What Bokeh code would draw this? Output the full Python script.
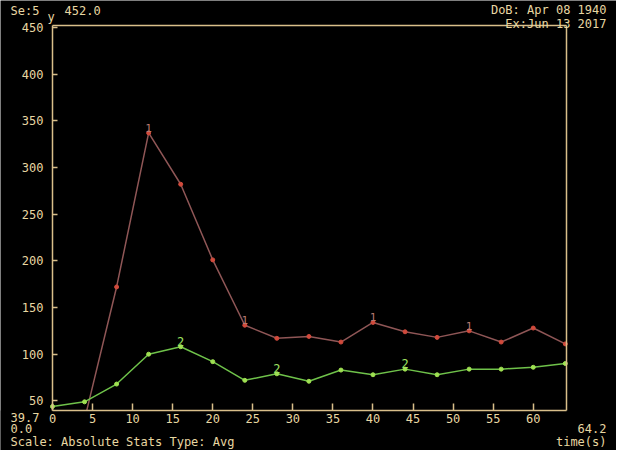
from bokeh.plotting import figure
from bokeh.models import (Range1d, FixedTicker, Label, ColumnDataSource, LinearAxis,
                          BoxAnnotation)
from bokeh.core.properties import value
from bokeh.embed import file_html
from bokeh.resources import INLINE

# ---- data ----
time_s = [0, 4, 8, 12, 16, 20, 24, 28, 32, 36, 40, 44, 48, 52, 56, 60, 64]
series1 = [20, 30, 172, 337, 282, 201, 131, 117, 119, 113, 134, 124, 118, 125, 113, 128, 111]
series2 = [44, 49, 68, 100, 108, 92, 72, 79, 71, 83, 78, 84, 78, 84, 84, 86, 90]
tag1_times = [12, 24, 40, 52]
tag2_times = [16, 28, 44]
x_ticks = [0, 5, 10, 15, 20, 25, 30, 35, 40, 45, 50, 55, 60]
y_ticks = [50, 100, 150, 200, 250, 300, 350, 400, 450]
x_min, x_max = 0.0, 64.2
y_min, y_max = 39.7, 452.0

# ---- style ----
FONT = "DejaVu Sans Mono"
TXT = "#e8d7a2"
AX = "#d9bf8a"
RED_LINE = "#8f5656"
RED_PT = "#d04a3c"
RED_TAG = "#b87a70"
GRN_LINE = "#6fc24a"
GRN_PT = "#9fe052"
GRN_TAG = "#9ee060"

W, H = 616, 450
# plot box inside the canvas (px): left, right, top, bottom
BL, BR, BT, BB = 52, 566.4, 25, 410
sx = (BR - BL) / (x_max - x_min)
sy = (BB - BT) / (y_max - y_min)
xr = Range1d(x_min - BL / sx, x_max + (W - BR) / sx)
yr = Range1d(y_min - (H - BB) / sy, y_max + BT / sy)

p = figure(width=W, height=H, output_backend="svg", toolbar_location=None,
           x_range=xr, y_range=yr, x_axis_location=None, y_axis_location=None,
           min_border=0)
p.background_fill_color = "black"
p.border_fill_color = "black"
p.outline_line_color = None
p.grid.visible = False

def style_axis(ax):
    ax.axis_line_color = AX
    ax.axis_line_width = 1.5
    ax.major_tick_line_color = AX
    ax.major_tick_line_width = 1.5
    ax.minor_tick_line_color = None
    ax.major_label_text_color = TXT
    ax.major_label_text_font = FONT
    ax.major_label_text_font_size = "12px"
    ax.major_tick_out = 0

xax = LinearAxis(fixed_location=y_min, bounds=(x_min, x_max), ticker=FixedTicker(ticks=x_ticks))
style_axis(xax)
xax.major_tick_in = 7
xax.major_label_standoff = 3
p.add_layout(xax, "below")

yax = LinearAxis(fixed_location=x_min, bounds=(y_min, y_max), ticker=FixedTicker(ticks=y_ticks))
style_axis(yax)
yax.major_tick_in = 5
yax.major_label_standoff = 9
p.add_layout(yax, "left")

top = LinearAxis(fixed_location=y_max, bounds=(x_min, x_max), ticker=FixedTicker(ticks=[]))
style_axis(top)
top.major_label_text_font_size = "0px"
p.add_layout(top, "above")

right = LinearAxis(fixed_location=x_max, bounds=(y_min, y_max), ticker=FixedTicker(ticks=[]))
style_axis(right)
right.major_label_text_font_size = "0px"
p.add_layout(right, "right")

src = ColumnDataSource(dict(t=time_s, s1=series1, s2=series2))
p.line("t", "s1", source=src, line_color=RED_LINE, line_width=1.5, level="underlay")
p.scatter("t", "s1", source=src, size=4, color=RED_PT, level="underlay")
p.line("t", "s2", source=src, line_color=GRN_LINE, line_width=1.5, level="underlay")
p.scatter("t", "s2", source=src, size=4, color=GRN_PT, level="underlay")

# mask anything that falls below the x axis (the plot box clips the series)
p.add_layout(BoxAnnotation(top=y_min, fill_color="black", fill_alpha=1.0,
                           line_color=None, level="glyph"))

t1 = dict(t=tag1_times, v=[series1[time_s.index(t)] for t in tag1_times], s=["1"] * len(tag1_times))
t2 = dict(t=tag2_times, v=[series2[time_s.index(t)] for t in tag2_times], s=["2"] * len(tag2_times))
p.text("t", "v", text="s", source=ColumnDataSource(t1), text_color=RED_TAG,
       text_font=value(FONT), text_font_size="11px", text_align="center",
       text_baseline="bottom", y_offset=-1)
p.text("t", "v", text="s", source=ColumnDataSource(t2), text_color=GRN_TAG,
       text_font=value(FONT), text_font_size="12px", text_align="center",
       text_baseline="bottom", y_offset=-1)

# canvas-pixel texts (page px minus 8px margin)
texts = [
    ("Se:5", 18, 18, "left"),
    ("y", 55, 24, "left"),
    ("452.0", 72, 18, "left"),
    ("DoB: Apr 08 1940", 614, 17, "right"),
    ("Ex:Jun 13 2017", 614, 31, "right"),
    ("39.7", 18, 425, "left"),
    ("0.0", 18, 436, "left"),
    ("Scale: Absolute Stats Type: Avg", 18, 449, "left"),
    ("64.2", 614, 436, "right"),
    ("time(s)", 614, 449, "right"),
]
for s, px, py, al in texts:
    p.add_layout(Label(x=px - 8, y=py - 8, x_units="canvas", y_units="canvas", text=s,
                       text_color=TXT, text_font=FONT, text_font_size="12px",
                       text_align=al, text_baseline="middle"))

open("out.html", "w").write(file_html(p, INLINE))
